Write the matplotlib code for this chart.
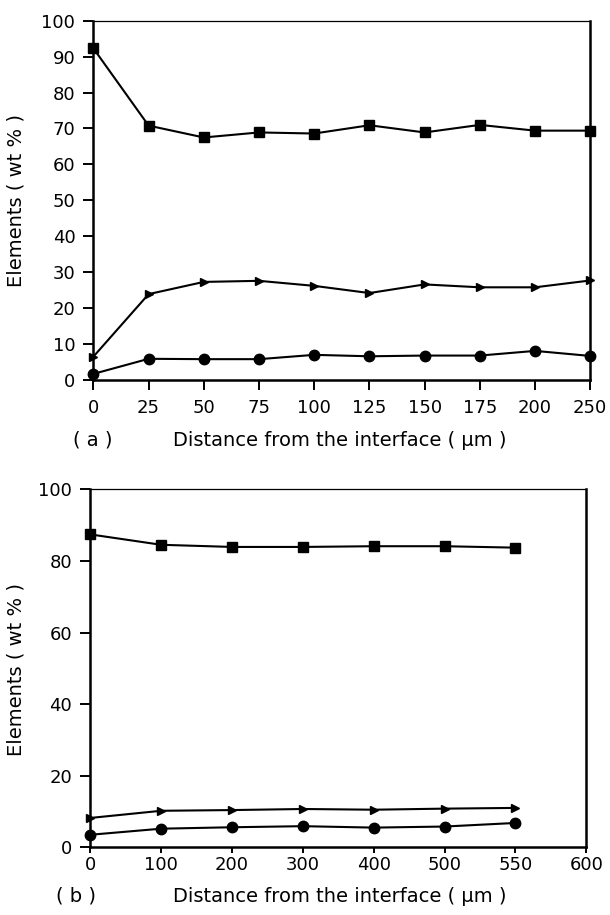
import matplotlib
matplotlib.use("Agg")
import matplotlib.pyplot as plt

plt.rcParams['font.family'] = ['DejaVu Sans']

# Panel (a) — tick positions are equally spaced (categorical)
dist_a = ['0', '25', '50', '75', '100', '125', '150', '175', '200', '250']
sq_a = [92.3, 70.8, 67.5, 68.9, 68.6, 70.9, 68.9, 71.0, 69.4, 69.4]
tri_a = [6.5, 23.9, 27.3, 27.6, 26.2, 24.2, 26.6, 25.8, 25.8, 27.7]
cir_a = [1.7, 5.9, 5.8, 5.8, 7.0, 6.6, 6.8, 6.8, 8.1, 6.7]

# Panel (b) — categorical, equally spaced x
dist_b = ['0', '100', '200', '300', '400', '500', '550', '600']
sq_b = [87.4, 84.5, 83.9, 83.9, 84.1, 84.1, 83.7]
tri_b = [8.2, 10.2, 10.4, 10.7, 10.5, 10.8, 11.0]
cir_b = [3.5, 5.2, 5.6, 5.9, 5.5, 5.8, 6.8]

TFS = 13
LFS = 14
fig = plt.figure(figsize=(6.1, 9.15), dpi=100)

def style(ax, xlen, xpad):
    for s in ['left', 'bottom', 'right']:
        ax.spines[s].set_linewidth(1.8)
    ax.spines['top'].set_linewidth(0.9)
    ax.tick_params(axis='y', direction='out', length=7, width=1.4, labelsize=TFS, pad=6)
    ax.tick_params(axis='x', direction='out', length=xlen, width=1.4, labelsize=TFS, pad=xpad)

def draw(ax, sq, tri, cir):
    pos = list(range(len(sq)))
    kw = dict(color='black', lw=1.5, clip_on=False, zorder=3)
    ax.plot(pos, sq, marker='s', ms=7, **kw)
    ax.plot(pos, tri, marker='>', ms=6, **kw)
    ax.plot(pos, cir, marker='o', ms=7.5, **kw)

# Top axes
ax1 = fig.add_axes([93.4/610, 1-380/915, 496.8/610, 359.3/915])
draw(ax1, sq_a, tri_a, cir_a)
ax1.set_xlim(0, len(dist_a) - 1)
ax1.set_ylim(0, 100)
ax1.set_xticks(range(len(dist_a)))
ax1.set_xticklabels(dist_a)
ax1.set_yticks(range(0, 101, 10))
style(ax1, 7, 7)

# Bottom axes
ax2 = fig.add_axes([90.3/610, 1-847.3/915, 496/610, 358/915])
draw(ax2, sq_b, tri_b, cir_b)
ax2.set_xlim(0, len(dist_b) - 1)
ax2.set_ylim(0, 100)
ax2.set_xticks(range(len(dist_b)))
ax2.set_xticklabels(dist_b)
ax2.set_yticks(range(0, 101, 20))
style(ax2, 4.5, 1.5)

# Labels
ylab = 'Elements ( wt % )'
xlab = 'Distance from the interface ( \u03bcm )'
fig.text(16.4/610, 1-201/915, ylab, rotation=90, ha='center', va='center', fontsize=LFS)
fig.text(16.4/610, 1-670/915, ylab, rotation=90, ha='center', va='center', fontsize=LFS)
fig.text(93/610, 1-440/915, '( a )', ha='center', va='center', fontsize=LFS)
fig.text(339.6/610, 1-440/915, xlab, ha='center', va='center', fontsize=LFS)
fig.text(76/610, 1-896/915, '( b )', ha='center', va='center', fontsize=LFS)
fig.text(339.5/610, 1-896/915, xlab, ha='center', va='center', fontsize=LFS)

fig.savefig('out.png', dpi=100)
